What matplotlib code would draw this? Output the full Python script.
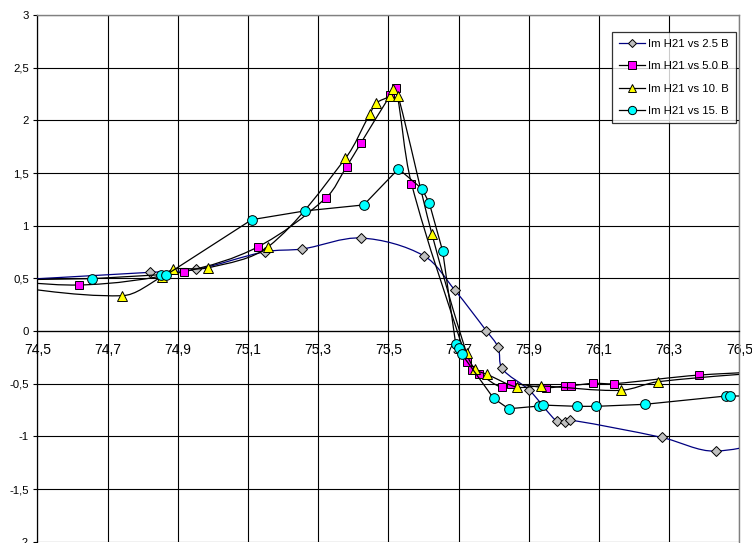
import numpy as np
import matplotlib
matplotlib.use("Agg")
import matplotlib.pyplot as plt
from matplotlib.path import Path
from matplotlib.patches import PathPatch
from matplotlib.lines import Line2D

plt.rcParams['font.family'] = ['Liberation Sans', 'DejaVu Sans']

# ---------------- data ----------------
x_25 = [74.20, 74.820, 74.953, 75.149, 75.255, 75.422, 75.601, 75.690, 75.779, 75.813,
        75.824, 75.902, 75.980, 76.002, 76.019, 76.279, 76.433, 76.70]
y_25 = [0.44, 0.557, 0.586, 0.753, 0.779, 0.883, 0.715, 0.386, 0.003, -0.155,
        -0.355, -0.563, -0.858, -0.861, -0.845, -1.010, -1.140, -0.95]

x_50 = [74.30, 74.619, 74.918, 75.128, 75.323, 75.381, 75.422, 75.506, 75.521, 75.566,
        75.725, 75.738, 75.759, 75.823, 75.850, 75.950, 76.004, 76.021, 76.084, 76.143,
        76.386, 76.70]
y_50 = [0.52, 0.437, 0.563, 0.798, 1.266, 1.560, 1.785, 2.240, 2.310, 1.400,
        -0.290, -0.370, -0.408, -0.535, -0.500, -0.538, -0.522, -0.519, -0.497, -0.500,
        -0.418, -0.37]

x_10 = [74.30, 74.741, 74.855, 74.887, 74.987, 75.158, 75.378, 75.447, 75.466, 75.505,
        75.514, 75.528, 75.624, 75.723, 75.748, 75.781, 75.866, 75.934, 76.162, 76.269,
        76.70]
y_10 = [0.47, 0.335, 0.515, 0.586, 0.600, 0.800, 1.640, 2.058, 2.165, 2.233,
        2.300, 2.233, 0.924, -0.210, -0.364, -0.411, -0.532, -0.522, -0.563, -0.481,
        -0.36]

x_15 = [74.30, 74.656, 74.853, 74.868, 75.111, 75.262, 75.430, 75.529, 75.596, 75.617,
        75.655, 75.692, 75.700, 75.709, 75.800, 75.843, 75.930, 75.940, 76.039, 76.092,
        76.230, 76.462, 76.474, 76.70]
y_15 = [0.48, 0.497, 0.535, 0.535, 1.057, 1.140, 1.197, 1.540, 1.350, 1.213,
        0.757, -0.123, -0.165, -0.218, -0.639, -0.738, -0.712, -0.703, -0.715, -0.715,
        -0.696, -0.617, -0.617, -0.615]

labels = ["Im H21 vs 2.5 B", "Im H21 vs 5.0 B", "Im H21 vs 10. B", "Im H21 vs 15. B"]

x_ticks = [74.5, 74.7, 74.9, 75.1, 75.3, 75.5, 75.7, 75.9, 76.1, 76.3, 76.5]
x_tick_labels = ["74,5", "74,7", "74,9", "75,1", "75,3", "75,5", "75,7", "75,9", "76,1", "76,3", "76,5"]
y_ticks = [-2, -1.5, -1, -0.5, 0, 0.5, 1, 1.5, 2, 2.5, 3]
y_tick_labels = ["-2", "-1,5", "-1", "-0,5", "0", "0,5", "1", "1,5", "2", "2,5", "3"]

# ---------------- figure ----------------
W, H = 752, 543
fig = plt.figure(figsize=(W / 100, H / 100), dpi=100)
ax = fig.add_axes([37.3 / W, (H - 541.7) / H, (739.3 - 37.3) / W, (541.7 - 15) / H])
ax.set_xlim(74.5, 76.5)
ax.set_ylim(-2, 3)

FS = 8.2
ax.set_xticks(x_ticks)
ax.set_xticklabels(x_tick_labels, fontsize=FS)
ax.set_yticks(y_ticks)
ax.set_yticklabels(y_tick_labels, fontsize=FS)
ax.grid(True, color='#000000', linewidth=0.8)
ax.set_axisbelow(True)
ax.tick_params(axis='x', length=0, pad=8.6)
ax.tick_params(axis='y', length=3, width=0.8, pad=3)
ax.spines['bottom'].set_position(('data', 0))
ax.spines['bottom'].set_linewidth(0.9)
ax.spines['left'].set_linewidth(0.9)
for s in ('top', 'right'):
    ax.spines[s].set_color('#808080')
    ax.spines[s].set_linewidth(1.0)

# smoothed line (Bezier through the data points)
fig.canvas.draw()
p0d = ax.transData.transform([0, 0])
p1d = ax.transData.transform([1, 1])
sx, sy = p1d - p0d


def smooth_path(xs, ys):
    pts = np.column_stack([xs, ys]).astype(float)
    n = len(pts)
    scale = np.array([sx, sy])

    def dist(a, b):
        return np.hypot(*((b - a) * scale)) + 1e-9

    verts = [pts[0]]
    codes = [Path.MOVETO]
    for i in range(n - 1):
        a = pts[i - 1] if i > 0 else pts[i]
        b = pts[i]
        c = pts[i + 1]
        d = pts[i + 2] if i + 2 < n else pts[i + 1]
        L = dist(b, c)
        t1 = (c - a) / (dist(a, b) + L) if i > 0 else (c - b) / L
        t2 = (d - b) / (L + dist(c, d)) if i + 2 < n else (c - b) / L
        c1 = b + t1 * L / 3.0
        c2 = c - t2 * L / 3.0
        verts += [c1, c2, c]
        codes += [Path.CURVE4] * 3
    return Path(verts, codes)


series = [
    (x_25, y_25, '#000080', 'D', '#C0C0C0', 5.2, True),
    (x_50, y_50, '#000000', 's', '#FF00FF', 6.3, True),
    (x_10, y_10, '#000000', '^', '#FFFF00', 6.8, True),
    (x_15, y_15, '#000000', 'o', '#00FFFF', 7.0, False),
]

handles = []
for k, (xs, ys, lc, mk, mfc, ms, smooth) in enumerate(series):
    if smooth:
        patch = PathPatch(smooth_path(xs, ys), facecolor='none', edgecolor=lc,
                          linewidth=0.9, zorder=3 + 2 * k)
        ax.add_patch(patch)
    else:
        ax.plot(xs, ys, color=lc, linewidth=0.9, zorder=3 + 2 * k)
    ax.plot(xs, ys, linestyle='none', marker=mk, markersize=ms, markerfacecolor=mfc,
            markeredgecolor='#000000', markeredgewidth=0.7, zorder=4 + 2 * k)
    handles.append(Line2D([], [], color=lc, linewidth=0.9, marker=mk, markersize=ms * 0.85,
                          markerfacecolor=mfc, markeredgecolor='#000000', markeredgewidth=0.7))

leg = ax.legend(handles, labels, loc='upper right',
                bbox_to_anchor=(735.7 / W, 1 - 32.3 / H), bbox_transform=fig.transFigure,
                borderaxespad=0, fontsize=FS, frameon=True, fancybox=False,
                handlelength=2.3, handletextpad=0.24, labelspacing=1.08,
                borderpad=0.6)
leg.get_frame().set_edgecolor('#000000')
leg.get_frame().set_linewidth(0.9)
leg.set_zorder(20)

fig.savefig("out.png", dpi=100)
